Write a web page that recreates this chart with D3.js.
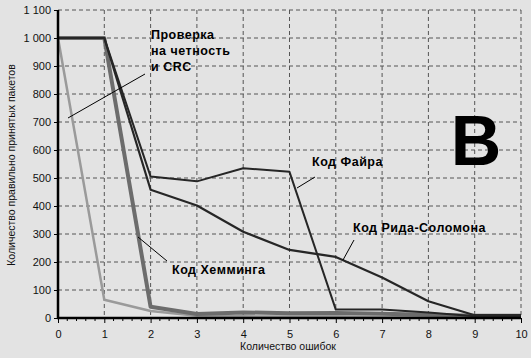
<!DOCTYPE html>
<html><head><meta charset="utf-8">
<script src="https://cdn.jsdelivr.net/npm/d3@7"></script>
<style>body{margin:0;background:#e3e3e3}svg{display:block}text{font-family:"Liberation Sans",Arial,sans-serif}</style>
</head><body>
<svg id="c" width="531" height="358"></svg>
<script>
const errors = [0,1,2,3,4,5,6,7,8,9,10];
const crc      = [1000,65,25,8,6,5,5,4,4,3,3];
const hamming  = [1000,1000,40,14,20,17,18,15,12,8,8];
const fire     = [1000,1000,505,488,535,522,30,30,20,6,6];
const reedSol  = [1000,1000,458,402,308,243,218,145,60,10,10];
const yTicks = [0,100,200,300,400,500,600,700,800,900,1000,1100];
const yTickLabels = ["0","100","200","300","400","500","600","700","800","900","1 000","1 100"];

const svg = d3.select("#c");
const x = d3.scaleLinear().domain([0,10]).range([58,521]);
const y = d3.scaleLinear().domain([0,1100]).range([318,10]);

// grid
const g = svg.append("g");
g.selectAll("line.vg").data(errors.slice(1)).join("line")
  .attr("x1",d=>x(d)).attr("x2",d=>x(d)).attr("y1",y(1100)).attr("y2",y(0))
  .attr("stroke","#555").attr("stroke-dasharray","4,3").attr("stroke-width",1);
g.selectAll("line.hg").data(yTicks.slice(1)).join("line")
  .attr("x1",x(0)).attr("x2",x(10)).attr("y1",d=>y(d)).attr("y2",d=>y(d))
  .attr("stroke","#555").attr("stroke-dasharray","4,3").attr("stroke-width",1);

// big letter
svg.append("text").attr("x",476).attr("y",165).attr("text-anchor","middle")
  .attr("font-size",70).attr("font-weight","bold").attr("fill","#000").text("B");

// axes
const xAxis = d3.axisBottom(x).tickValues(errors).tickSize(5).tickFormat(d3.format("d"));
const xg = svg.append("g").attr("transform",`translate(0,${y(0)})`).call(xAxis);
xg.select(".domain").remove();
xg.selectAll("text").attr("font-size",11).attr("fill","#111").attr("dy","1.05em").attr("font-family","Liberation Sans, Arial");
xg.selectAll("line").attr("stroke","#000");
const minor = d3.range(0,10.001,0.2).filter(v=>Math.abs(v-Math.round(v))>1e-6);
svg.append("g").selectAll("line").data(minor).join("line")
  .attr("x1",d=>x(d)).attr("x2",d=>x(d)).attr("y1",y(0)).attr("y2",y(0)+3).attr("stroke","#000");

const yAxis = d3.axisLeft(y).tickValues(yTicks).tickSize(4).tickFormat((d,i)=>yTickLabels[i]);
const yg = svg.append("g").attr("transform",`translate(${x(0)},0)`).call(yAxis);
yg.select(".domain").remove();
yg.selectAll("text").attr("font-size",11).attr("fill","#111").attr("font-family","Liberation Sans, Arial");
yg.selectAll("line").attr("stroke","#000");

// series
const line = d3.line().x((d,i)=>x(errors[i])).y(d=>y(d));
const series = [
  {v:crc, c:"#9a9a9a", w:2.5},
  {v:hamming, c:"#6c6c6c", w:4},
  {v:fire, c:"#262626", w:2},
  {v:reedSol, c:"#262626", w:2.2}
];
svg.append("g").selectAll("path").data(series).join("path")
  .attr("d",d=>line(d.v)).attr("fill","none").attr("stroke",d=>d.c).attr("stroke-width",d=>d.w)
  .attr("stroke-linejoin","round");

// axis lines
svg.append("line").attr("x1",x(0)).attr("x2",x(0)).attr("y1",y(1100)).attr("y2",y(0)+1).attr("stroke","#000").attr("stroke-width",2.5);
svg.append("line").attr("x1",x(0)-1).attr("x2",x(10)).attr("y1",y(0)).attr("y2",y(0)).attr("stroke","#000").attr("stroke-width",2.5);

// titles
svg.append("text").attr("transform",`translate(15,165) rotate(-90)`).attr("text-anchor","middle")
  .attr("font-size",10.5).attr("fill","#111").text("Количество правильно принятых пакетов");
svg.append("text").attr("x",288).attr("y",350).attr("text-anchor","middle")
  .attr("font-size",10.5).attr("fill","#111").text("Количество ошибок");

// annotations
const ann = svg.append("g").attr("font-size",12.5).attr("font-weight","bold").attr("fill","#000");
[["Проверка",39],["на четность",55],["и CRC",71]].forEach(([t,yy])=>
  ann.append("text").attr("x",151).attr("y",yy).attr("letter-spacing",0.5).text(t));
ann.append("text").attr("x",172).attr("y",274).attr("letter-spacing",0.5).text("Код Хемминга");
ann.append("text").attr("x",312).attr("y",166).attr("letter-spacing",0.5).text("Код Файра");
ann.append("text").attr("x",353).attr("y",232).attr("letter-spacing",0.5).text("Код Рида-Соломона");

const leaders = [[68,118,145,74],[138,237,167,261],[297,188,315,177],[343,260,354,240]];
svg.append("g").selectAll("line").data(leaders).join("line")
  .attr("x1",d=>d[0]).attr("y1",d=>d[1]).attr("x2",d=>d[2]).attr("y2",d=>d[3])
  .attr("stroke","#000").attr("stroke-width",1);
</script>
</body></html>
